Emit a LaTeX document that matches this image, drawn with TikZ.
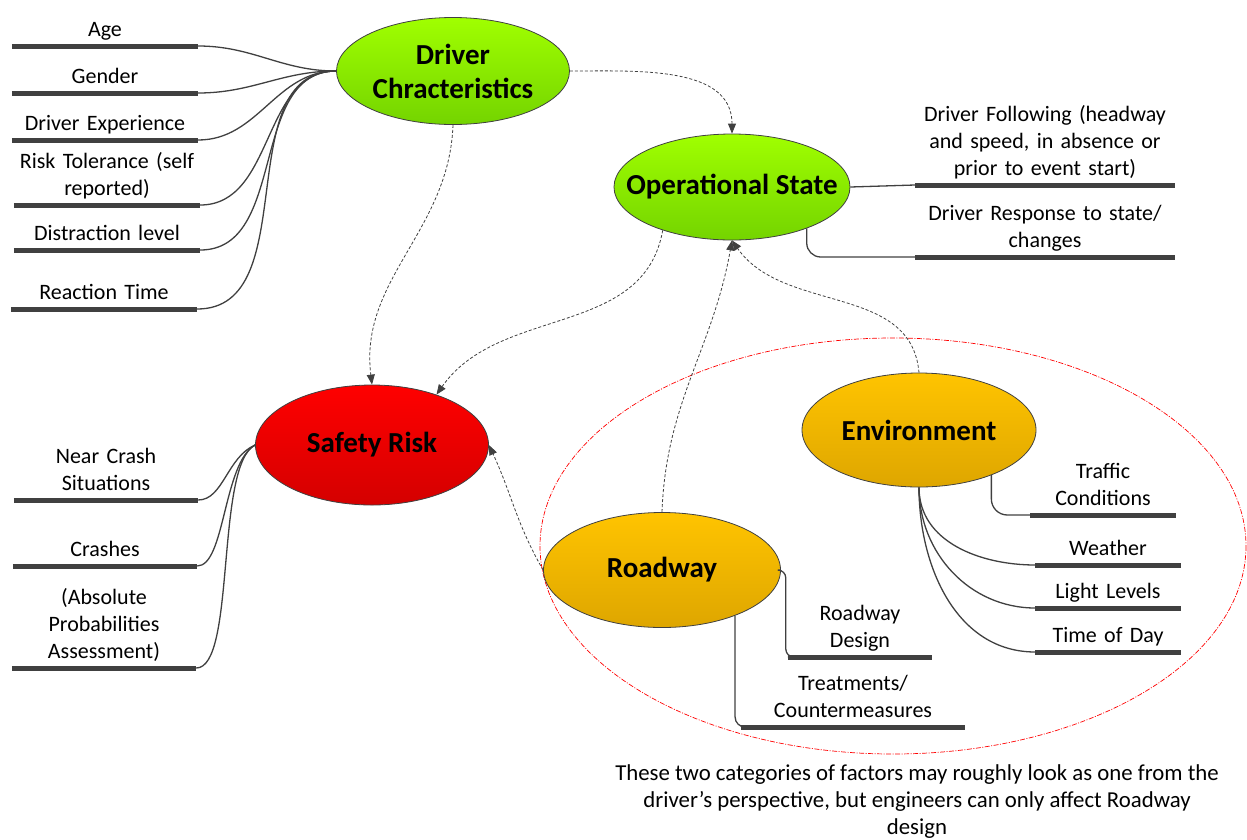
\documentclass[tikz,border=0pt]{standalone}
\usepackage{fontspec}
\setmainfont{Carlito}
\usetikzlibrary{shapes.geometric,arrows.meta}

\definecolor{ink}{RGB}{64,64,64}
\definecolor{limetop}{RGB}{160,255,0}
\definecolor{limebot}{RGB}{116,212,0}
\definecolor{redtop}{RGB}{255,0,0}
\definecolor{redbot}{RGB}{212,0,0}
\definecolor{ambertop}{RGB}{255,196,0}
\definecolor{amberbot}{RGB}{222,166,0}

\newcommand{\leaffont}{\fontsize{22}{27}\selectfont}
\newcommand{\notefont}{\fontsize{22.8}{27}\selectfont}
\newcommand{\titlefont}{\fontsize{29}{34}\selectfont\bfseries}

\tikzset{
  bubble/.style={ellipse, draw=ink, line width=0.8pt, inner sep=0pt},
  lime/.style={top color=limetop, bottom color=limebot},
  hot/.style={top color=redtop, bottom color=redbot},
  amber/.style={top color=ambertop, bottom color=amberbot},
  title/.style={font=\titlefont, align=center, inner sep=0pt},
  leaf/.style={anchor=south, align=center, font=\leaffont, text width=#1,
    inner xsep=0pt, inner ysep=1pt, execute at end node=\strut},
  bar/.style={draw=ink, line width=5pt},
  link/.style={draw=ink, line width=1.3pt},
  flow/.style={draw=ink, line width=0.8pt, dash pattern=on 3pt off 2pt,
    -{Triangle[length=10pt,width=8pt]}},
  group/.style={draw=red, line width=0.7pt,
    dash pattern=on 5pt off 1.5pt on 1pt off 1.5pt}
}

\begin{document}
\begin{tikzpicture}[x=1pt, y=-1pt]
  \useasboundingbox (0,0) rectangle (1247,839);

  \draw[group] (893,546) ellipse [x radius=353, y radius=208];

  \node[bubble, lime, minimum width=233, minimum height=107,
    label={[title]center:Driver\\Chracteristics}] (drv) at (453,71) {};
  \node[bubble, lime, minimum width=236, minimum height=106,
    label={[title]center:Operational State}] (ops) at (732,187) {};
  \node[bubble, hot, minimum width=233, minimum height=120,
    label={[title]center:Safety Risk}] (risk) at (372,445) {};
  \node[bubble, amber, minimum width=234, minimum height=114,
    label={[title]center:Environment}] (env) at (919,430) {};
  \node[bubble, amber, minimum width=237, minimum height=115,
    label={[title]center:Roadway}] (road) at (662,570) {};

  \node[leaf=186] (age) at (105,46) {Age};
  \node[leaf=186] (gender) at (105,93) {Gender};
  \node[leaf=186] (exper) at (105,140) {Driver Experience};
  \node[leaf=186] (toler) at (107,205) {Risk Tolerance (self\\reported)};
  \node[leaf=186] (distr) at (107,250) {Distraction level};
  \node[leaf=186] (react) at (104,309) {Reaction Time};

  \node[leaf=260] (follow) at (1045,185) {Driver Following (headway\\and speed, in absence or\\prior to event start)};
  \node[leaf=260] (resp) at (1045,257) {Driver Response to state/\\changes};

  \node[leaf=184] (nearc) at (106,500) {Near Crash\\Situations};
  \node[leaf=184] (crash) at (105,566) {Crashes};
  \node[leaf=184] (absprob) at (104,668) {(Absolute\\Probabilities\\Assessment)};

  \node[leaf=145] (traffic) at (1103,515) {Traffic\\Conditions};
  \node[leaf=145] (weather) at (1108,565) {Weather};
  \node[leaf=145] (light) at (1108,608) {Light Levels};
  \node[leaf=145] (tod) at (1108,652) {Time of Day};

  \node[leaf=144] (design) at (860,657) {Roadway\\Design};
  \node[leaf=223] (treat) at (853,727) {Treatments/\\Countermeasures};

  \foreach \n in {age,gender,exper,toler,distr,react,follow,resp,nearc,crash,
    absprob,traffic,weather,light,tod,design,treat}
    \draw[bar] (\n.south west) -- (\n.south east);

  \foreach \n in {age,gender,exper,toler,distr,react}
    \draw[link] (\n.south east) to[out=0,in=180] (drv.west);

  \draw[link] (ops.east) -- (follow.south west);
  \draw[link, rounded corners=14] (ops.-29) |- (resp.south west);

  \draw[link] (nearc.south east) .. controls +(25,0) and +(-28,12) .. (risk.west);
  \draw[link] (crash.south east) .. controls +(28,0) and +(-32,18) .. (risk.west);
  \draw[link] (absprob.south east) .. controls +(40,0) and +(-40,20) .. (risk.west);

  \draw[link, rounded corners=16] (env.-32) |- (traffic.south west);
  \foreach \n in {weather,light,tod}
    \draw[link] (env.south) to[out=-90,in=180] (\n.south west);

  \draw[link, rounded corners=8] (road.east) -| ([xshift=-2]design.south west) -- (design.south west);
  \draw[link, rounded corners=10] (road.-32) |- (treat.south west);

  \draw[flow] (drv.south) to[out=-92,in=97] (risk.north);
  \draw[flow] (drv.east) to[out=0,in=90] (ops.north);
  \draw[flow] (ops.-148) to[out=-100,in=55] (risk.38);
  \draw[flow] (road.north) to[out=88,in=-100] (ops.south);
  \draw[flow] (env.north) to[out=95,in=-55] (ops.south);
  \draw[flow] (road.west) to[out=120,in=-65] (risk.east);

  \node[font=\notefont, align=center] (note) at (917,802)
    {These two categories of factors may roughly look as one from the\\driver’s perspective, but engineers can only affect Roadway\\design};
\end{tikzpicture}
\end{document}
